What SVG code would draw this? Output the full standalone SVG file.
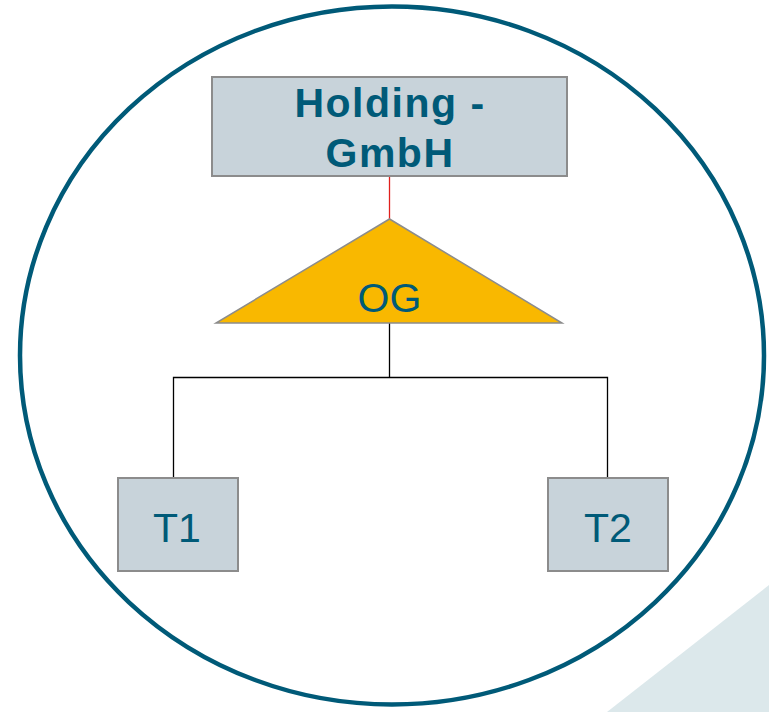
<svg xmlns="http://www.w3.org/2000/svg" width="769" height="712" viewBox="0 0 769 712">
<style>
.box{fill:#C8D3DA;stroke:#8C8C8C;stroke-width:2}
.lbl{font-family:"Liberation Sans",Arial,sans-serif;font-size:41px;fill:#005A78;text-anchor:middle}
.bold{font-weight:bold;letter-spacing:1.5px}
.conn{fill:none;stroke:#000;stroke-width:1.3}
</style>
<rect width="769" height="712" fill="#FFFFFF"/>
<polygon points="769,585 769,712 607,712" fill="#DCE8EB"/>
<ellipse id="boundary" cx="392" cy="355.5" rx="372" ry="349" fill="none" stroke="#005A78" stroke-width="4.5"/>
<g id="connectors">
<line x1="389.5" y1="176" x2="389.5" y2="219" stroke="#E0201C" stroke-width="1.3"/>
<polyline class="conn" points="389.5,323 389.5,377.5"/>
<polyline class="conn" points="173.5,477 173.5,377.5 607.5,377.5 607.5,477"/>
</g>
<g id="holding">
<rect class="box" x="212" y="77" width="355" height="99"/>
<text class="lbl bold" x="390" y="117">Holding -</text>
<text class="lbl bold" x="390" y="167">GmbH</text>
</g>
<g id="og">
<polygon points="389.5,219 216,323 562,323" fill="#F9B800" stroke="#8C8C8C" stroke-width="1.5"/>
<text class="lbl" x="389.5" y="312">OG</text>
</g>
<g id="t1">
<rect class="box" x="118" y="478" width="120" height="93"/>
<text class="lbl" x="177" y="542">T1</text>
</g>
<g id="t2">
<rect class="box" x="548" y="478" width="120" height="93"/>
<text class="lbl" x="608" y="542">T2</text>
</g>
</svg>
